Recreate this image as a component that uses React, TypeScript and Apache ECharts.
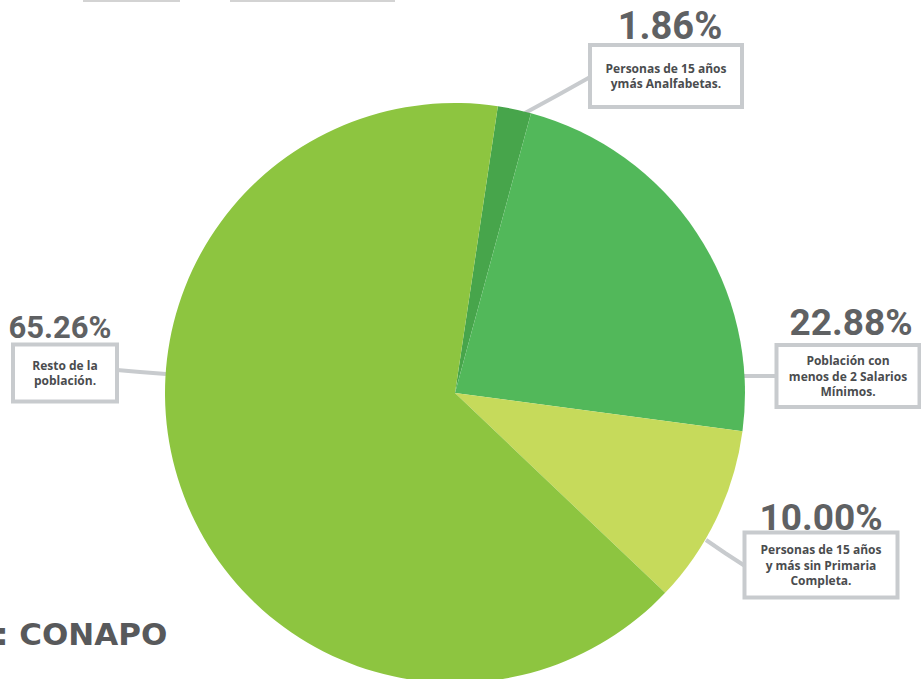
import React, { useEffect, useRef } from 'react';
import * as echarts from 'echarts';

const categories = [
  'Personas de 15 años\nymás Analfabetas.',
  'Población con\nmenos de 2 Salarios\nMínimos.',
  'Personas de 15 años\ny más sin Primaria\nCompleta.',
  'Resto de la\npoblación.',
];
const values = [1.86, 22.88, 10.0, 65.26];
const colors = ['#47a54b', '#52b85a', '#c6da5b', '#8dc540'];
const sourceText = ': CONAPO';

// layout (positions / sizes)
const boxes = [
  { x: 666, y: 76, w: 152, h: 62 },
  { x: 848, y: 376, w: 143, h: 62 },
  { x: 821, y: 565, w: 153, h: 65 },
  { x: 65, y: 373, w: 104, h: 57 },
];
const linePts = [
  [[525, 113], [558, 95], [592, 76]],
  [[743, 376], [760, 376], [777, 376]],
  [[706, 540], [725, 553], [745, 566]],
  [[166, 374], [140, 372], [117, 370]],
];
const pctPos = [
  { x: 670, y: 26, fs: 38 },
  { x: 851, y: 322, fs: 37 },
  { x: 821, y: 517, fs: 37 },
  { x: 60, y: 327, fs: 31 },
];

const BW = 4;
const LH = 15.5;
const BORDER = '#c8cbce';

export default function App() {
  const ref = useRef<HTMLDivElement>(null);
  useEffect(() => {
    if (!ref.current) return;
    const chart = echarts.init(ref.current, null, { renderer: 'svg' });
    const boxData = values.map((v, i) => {
      const n = categories[i].split('\n').length;
      const b = boxes[i];
      return {
        value: v,
        name: categories[i],
        itemStyle: { color: colors[i] },
        label: {
          width: b.w - BW,
          padding: [(b.h - BW - n * LH) / 2, 0],
        },
      };
    });
    const pctData = values.map((v, i) => ({
      value: v,
      name: categories[i],
      label: { fontSize: pctPos[i].fs },
    }));
    chart.setOption({
      animation: false,
      backgroundColor: '#ffffff',
      graphic: [
        { type: 'rect', shape: { x: 83, y: 0, width: 97, height: 2 }, style: { fill: '#d3d3d3' } },
        { type: 'rect', shape: { x: 230, y: 0, width: 165, height: 2 }, style: { fill: '#d3d3d3' } },
        {
          type: 'text',
          x: -4,
          y: 634,
          style: {
            text: sourceText,
            fill: '#58595b',
            font: 'bold 31px "DejaVu Sans"',
            verticalAlign: 'middle',
          },
        },
      ],
      series: [
        {
          type: 'pie',
          center: [455, 393],
          radius: [0, 290],
          startAngle: 81.5,
          clockwise: true,
          silent: true,
          avoidLabelOverlap: false,
          data: boxData,
          label: {
            show: true,
            position: 'outside',
            formatter: (p: any) => p.name,
            color: '#4a4c4e',
            fontFamily: 'Open Sans',
            fontWeight: 'bold',
            fontSize: 12,
            lineHeight: LH,
            align: 'center',
            backgroundColor: '#ffffff',
            borderColor: BORDER,
            borderWidth: BW,
          },
          labelLine: {
            show: true,
            lineStyle: { color: BORDER, width: 4 },
          },
          labelLayout: (params: any) => ({
            x: boxes[params.dataIndex].x,
            y: boxes[params.dataIndex].y,
            align: 'center',
            verticalAlign: 'middle',
            labelLinePoints: linePts[params.dataIndex],
          }),
        },
        {
          type: 'pie',
          center: [455, 393],
          radius: [0, 290],
          startAngle: 81.5,
          clockwise: true,
          silent: true,
          avoidLabelOverlap: false,
          itemStyle: { color: 'rgba(0,0,0,0)' },
          data: pctData,
          label: {
            show: true,
            position: 'outside',
            formatter: (p: any) => p.value.toFixed(2) + '%',
            color: '#5f6163',
            fontFamily: 'Roboto',
            fontWeight: 'bold',
          },
          labelLine: { show: false },
          labelLayout: (params: any) => ({
            x: pctPos[params.dataIndex].x,
            y: pctPos[params.dataIndex].y,
            align: 'center',
            verticalAlign: 'middle',
          }),
        },
      ],
    });
    return () => chart.dispose();
  }, []);
  return (
    <div
      ref={ref}
      style={{ position: 'fixed', left: 0, top: 0, width: 921, height: 679 }}
    />
  );
}
